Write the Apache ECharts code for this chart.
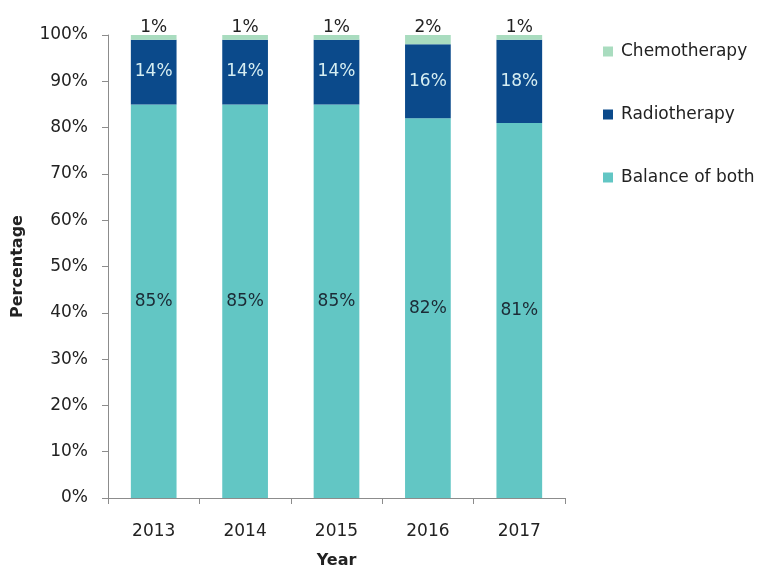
<!DOCTYPE html>
<html>
<head>
<meta charset="utf-8">
<script src="https://cdn.jsdelivr.net/npm/echarts@6/dist/echarts.min.js"></script>
<style>
  html, body { margin: 0; padding: 0; background: #fff; }
  #chart { width: 767px; height: 569px; }
</style>
</head>
<body>
<div id="chart"></div>
<script>
// Treatment mix by year (percent of patients)
const years = ['2013', '2014', '2015', '2016', '2017'];
const balanceOfBoth = [85, 85, 85, 82, 81];
const radiotherapy = [14, 14, 14, 16, 18];
const chemotherapy = [1, 1, 1, 2, 1];
const yTicks = [0, 10, 20, 30, 40, 50, 60, 70, 80, 90, 100];

const FONT = '"DejaVu Sans", Verdana, sans-serif';
const TEXT = '#222';

const chart = echarts.init(document.getElementById('chart'));
chart.setOption({
  animation: false,
  textStyle: { fontFamily: FONT },
  grid: { left: 108, right: 202, top: 35, bottom: 71, containLabel: false, outerBoundsMode: 'none' },
  legend: {
    orient: 'vertical',
    left: 603,
    top: 43,
    padding: 0,
    itemGap: 46,
    itemWidth: 10,
    itemHeight: 10,
    icon: 'rect',
    data: ['Chemotherapy', 'Radiotherapy', 'Balance of both'],
    textStyle: { fontFamily: FONT, fontSize: 17, color: TEXT, padding: [0, 0, 0, 3] }
  },
  xAxis: {
    type: 'category',
    data: years,
    name: 'Year',
    nameLocation: 'middle',
    nameGap: 55,
    nameTextStyle: { fontFamily: FONT, fontSize: 16, fontWeight: 'bold', color: TEXT },
    axisLine: { lineStyle: { color: '#8c8c8c' } },
    axisTick: { show: true, length: 6, lineStyle: { color: '#8c8c8c' } },
    axisLabel: { fontFamily: FONT, fontSize: 17, color: TEXT, margin: 25 }
  },
  yAxis: {
    type: 'value',
    min: yTicks[0],
    max: yTicks[yTicks.length - 1],
    interval: 10,
    name: 'Percentage',
    nameLocation: 'middle',
    nameGap: 82,
    nameTextStyle: { fontFamily: FONT, fontSize: 16, fontWeight: 'bold', color: TEXT },
    axisLine: { show: true, lineStyle: { color: '#8c8c8c' } },
    axisTick: { show: true, length: 6, lineStyle: { color: '#8c8c8c' } },
    splitLine: { show: false },
    axisLabel: { fontFamily: FONT, fontSize: 17, color: TEXT, margin: 20, formatter: '{value}%' }
  },
  series: [
    {
      name: 'Balance of both',
      type: 'bar',
      stack: 'total',
      barWidth: '50%',
      data: balanceOfBoth,
      itemStyle: { color: '#62c6c4' },
      label: { show: true, position: 'inside', formatter: '{c}%', fontFamily: FONT, fontSize: 17, color: '#1c2b36' }
    },
    {
      name: 'Radiotherapy',
      type: 'bar',
      stack: 'total',
      data: radiotherapy,
      itemStyle: { color: '#0b4a8b' },
      label: { show: true, position: 'inside', formatter: '{c}%', fontFamily: FONT, fontSize: 17, color: '#d6eef2' }
    },
    {
      name: 'Chemotherapy',
      type: 'bar',
      stack: 'total',
      data: chemotherapy,
      itemStyle: { color: '#a9dcbf' },
      label: { show: true, position: 'top', distance: -1, formatter: '{c}%', fontFamily: FONT, fontSize: 17, color: TEXT }
    }
  ]
});
</script>
</body>
</html>
